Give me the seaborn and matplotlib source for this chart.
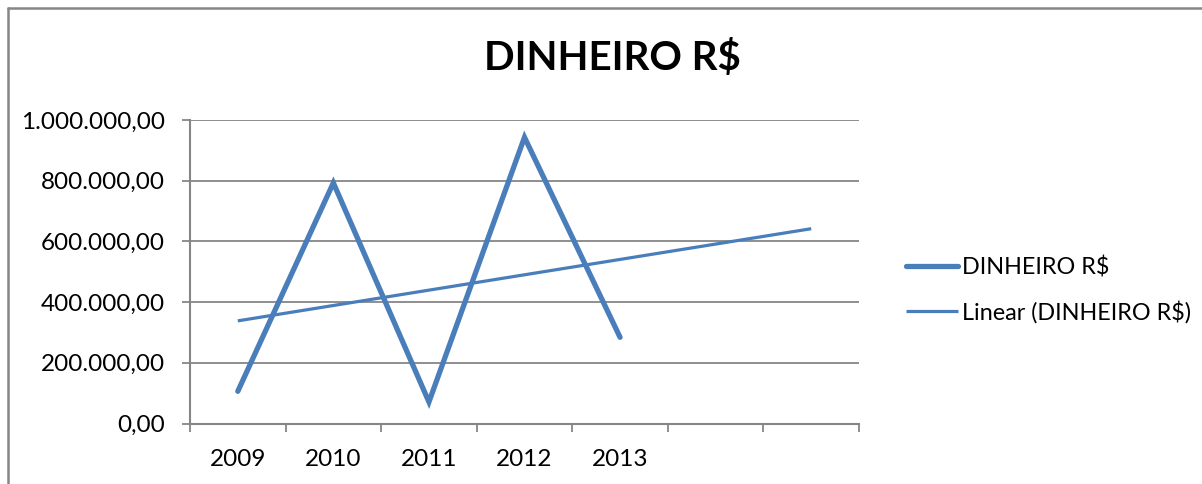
import numpy as np
import pandas as pd
import matplotlib
matplotlib.use("Agg")
import matplotlib.pyplot as plt
from matplotlib.ticker import FuncFormatter, FixedLocator
import seaborn as sns

# values
years = ["2009", "2010", "2011", "2012", "2013"]
dinheiro = [106000, 793000, 71000, 943000, 284000]
forecast_periods = 2  # trend line extends two periods forward

title = "DINHEIRO R$"
series_label = "DINHEIRO R$"
trend_label = "Linear (DINHEIRO R$)"

blue = "#4A7EBB"
grey = "#868686"


def br_format(v, pos):
    s = f"{v:,.2f}"
    return s.replace(",", "X").replace(".", ",").replace("X", ".")


def main():
    sns.set_style("white")
    plt.rcParams['font.family'] = ['Lato', 'DejaVu Sans']
    plt.rcParams['text.color'] = 'black'
    plt.rcParams['xtick.labelcolor'] = 'black'
    plt.rcParams['ytick.labelcolor'] = 'black'

    df = pd.DataFrame({'pos': np.arange(len(years)), 'valor': dinheiro})

    # linear trend like Excel's trendline
    n_total = len(years) + forecast_periods
    coef = np.polyfit(df['pos'], df['valor'], 1)
    trend = pd.DataFrame({'pos': np.arange(n_total)})
    trend['valor'] = np.polyval(coef, trend['pos'])

    fig = plt.figure(figsize=(12.02, 4.84), dpi=100)
    ax = fig.add_axes([190 / 1202, 1 - 423.5 / 484, 669 / 1202, 303.5 / 484])

    sns.lineplot(data=df, x='pos', y='valor', ax=ax, color=blue, linewidth=3.8,
                 solid_capstyle='round', solid_joinstyle='miter', label=series_label)
    sns.lineplot(data=trend, x='pos', y='valor', ax=ax, color=blue, linewidth=2.3,
                 solid_capstyle='butt', label=trend_label)

    ax.set_xlim(-0.5, n_total - 0.5)
    ax.set_ylim(0, 1000000)
    ax.set_yticks(np.arange(0, 1000001, 200000))
    ax.yaxis.set_major_formatter(FuncFormatter(br_format))
    ax.yaxis.grid(True, color=grey, linewidth=1.3)
    ax.set_axisbelow(True)

    # ticks between categories, labels centred on categories
    ax.xaxis.set_major_locator(FixedLocator(np.arange(-0.5, n_total, 1.0)))
    ax.xaxis.set_minor_locator(FixedLocator(np.arange(len(years))))
    ax.set_xticklabels([], minor=False)
    ax.set_xticklabels(years, minor=True)
    ax.tick_params(axis='x', which='major', direction='out', length=6, width=1.3,
                   color=grey, bottom=True)
    ax.tick_params(axis='x', which='minor', length=0, pad=18, labelsize=17.5)
    ax.tick_params(axis='y', direction='out', length=6, width=1.3, color=grey,
                   left=True, pad=12, labelsize=17.5)

    for side in ['top', 'right']:
        ax.spines[side].set_visible(False)
    for side in ['left', 'bottom']:
        ax.spines[side].set_color(grey)
        ax.spines[side].set_linewidth(1.5)

    ax.set_xlabel('')
    ax.set_ylabel('')

    fig.text(612 / 1202, 1 - 58 / 484, title, ha='center', va='center',
             fontsize=29, fontweight='bold')

    handles, labels = ax.get_legend_handles_labels()
    ax.get_legend().remove()
    fig.legend(handles, labels, loc='center left', bbox_to_anchor=(897 / 1202, 1 - 290 / 484),
               frameon=False, fontsize=16.8, handlelength=2.2, handletextpad=0.2,
               labelspacing=0.95, borderaxespad=0)

    # outer chart border (only top and left visible in the crop)
    fig.add_artist(plt.Line2D([7.5 / 1202, 7.5 / 1202], [0, 1 - 7.5 / 484],
                              transform=fig.transFigure, color=grey, linewidth=1.8))
    fig.add_artist(plt.Line2D([7.5 / 1202, 1], [1 - 7.5 / 484, 1 - 7.5 / 484],
                              transform=fig.transFigure, color=grey, linewidth=1.8))

    fig.savefig('out.png', dpi=100)
    plt.close(fig)


if __name__ == "__main__":
    main()
